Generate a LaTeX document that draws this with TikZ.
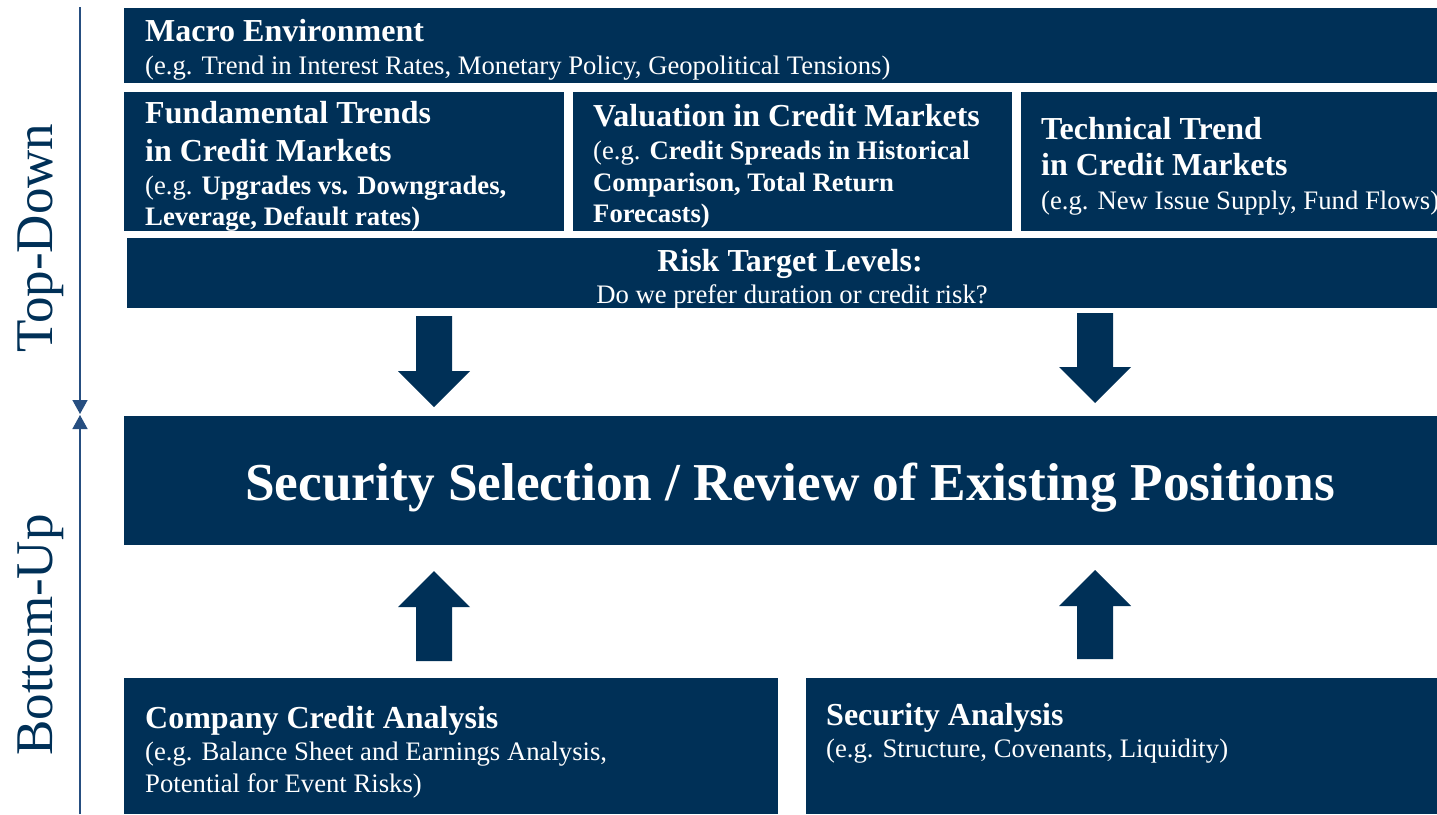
\documentclass[tikz,border=0pt]{standalone}
\usepackage{fontspec}
\setmainfont{Liberation Serif}
\usetikzlibrary{arrows.meta}
\definecolor{navy}{RGB}{0,48,87}
\definecolor{axisblue}{RGB}{38,78,128}
\newcommand{\blockdown}[3]{%
  \fill[navy] (#1-18,#2) -- (#1+18,#2) -- (#1+18,#3-36) -- (#1+36,#3-36) -- (#1,#3) -- (#1-36,#3-36) -- (#1-18,#3-36) -- cycle;}
\newcommand{\blockup}[3]{%
  \fill[navy] (#1,#2) -- (#1+36,#2+36) -- (#1+18,#2+36) -- (#1+18,#3) -- (#1-18,#3) -- (#1-18,#2+36) -- (#1-36,#2+36) -- cycle;}
\begin{document}
\begin{tikzpicture}[x=1pt,y=-1pt,
  box/.style={fill=navy, draw=none, inner sep=0pt, outer sep=0pt, anchor=north west},
  ttl/.style={text=white, font=\fontsize{32}{38}\selectfont\bfseries, anchor=base west, inner sep=0pt},
  sub/.style={text=white, font=\fontsize{26.7}{32}\selectfont, anchor=base west, inner sep=0pt},
  subb/.style={sub, font=\fontsize{26.7}{32}\selectfont\bfseries},
  axis/.style={draw=axisblue, line width=1.5pt, -{Triangle[width=15pt,length=14pt]}},
  side/.style={text=navy, font=\fontsize{53}{60}\selectfont, rotate=90, anchor=base, inner sep=0pt}]
\useasboundingbox (0,0) rectangle (1437,814);

% boxes
\node[box, minimum width=1313, minimum height=75] (macro) at (124,8) {};
\node[box, minimum width=440, minimum height=139] (fund) at (124,92) {};
\node[box, minimum width=439, minimum height=139] (val) at (573,92) {};
\node[box, minimum width=416, minimum height=139] (tech) at (1021,92) {};
\node[box, minimum width=1310, minimum height=70] (risk) at (127,238) {};
\node[box, minimum width=1313, minimum height=129] (sel) at (124,416) {};
\node[box, minimum width=654, minimum height=136] (comp) at (124,678) {};
\node[box, minimum width=631, minimum height=136] (secan) at (806,678) {};

% macro
\node[ttl] (macroT) at (145,41) {Macro Environment};
\node[sub] (macroS) at (145,74) {(e.g. Trend in Interest Rates, Monetary Policy, Geopolitical Tensions)};

% fundamental
\node[ttl] (fundT1) at (145,123) {Fundamental Trends};
\node[ttl] (fundT2) at (145,161) {in Credit Markets};
\node[sub] (fundS1) at (145,194) {(e.g. \textbf{Upgrades vs. Downgrades,}};
\node[subb] (fundS2) at (145,225) {Leverage, Default rates)};

% valuation
\node[ttl] (valT) at (593,126) {Valuation in Credit Markets};
\node[sub] (valS1) at (593,159) {(e.g. \textbf{Credit Spreads in Historical}};
\node[subb] (valS2) at (593,191) {Comparison, Total Return};
\node[subb] (valS3) at (593,222) {Forecasts)};

% technical
\node[ttl] (techT1) at (1041,139) {Technical Trend};
\node[ttl] (techT2) at (1041,175) {in Credit Markets};
\node[sub] (techS) at (1041,209) {(e.g. New Issue Supply, Fund Flows)};

% risk
\node[ttl, anchor=base] (riskT) at (790,271) {Risk Target Levels:};
\node[sub, anchor=base] (riskS) at (792,303) {Do we prefer duration or credit risk?};

% selection
\node[text=white, font=\fontsize{53.3}{60}\selectfont\bfseries, anchor=base, inner sep=0pt] (selT) at (790,500) {Security Selection / Review of Existing Positions};

% company
\node[ttl] (compT) at (145,728) {Company Credit Analysis};
\node[sub] (compS1) at (145,760) {(e.g. Balance Sheet and Earnings Analysis,};
\node[sub] (compS2) at (145,792) {Potential for Event Risks)};

% security analysis
\node[ttl] (secT) at (826,725) {Security Analysis};
\node[sub] (secS) at (826,757) {(e.g. Structure, Covenants, Liquidity)};

% block arrows
\blockdown{434}{316}{407}
\blockdown{1095}{313}{403}
\blockup{434}{571}{661}
\blockup{1095}{570}{659}

% side axis
\coordinate (axtop) at (80,7);
\coordinate (axmidA) at (80,414);
\coordinate (axmidB) at (80,415);
\coordinate (axbot) at (80,814);
\draw[axis] (axtop) -- (axmidA);
\draw[axis] (axbot) -- (axmidB);

\node[side] (td) at (52,238) {Top-Down};
\node[side] (bu) at (52,635) {Bottom-Up};
\end{tikzpicture}
\end{document}
